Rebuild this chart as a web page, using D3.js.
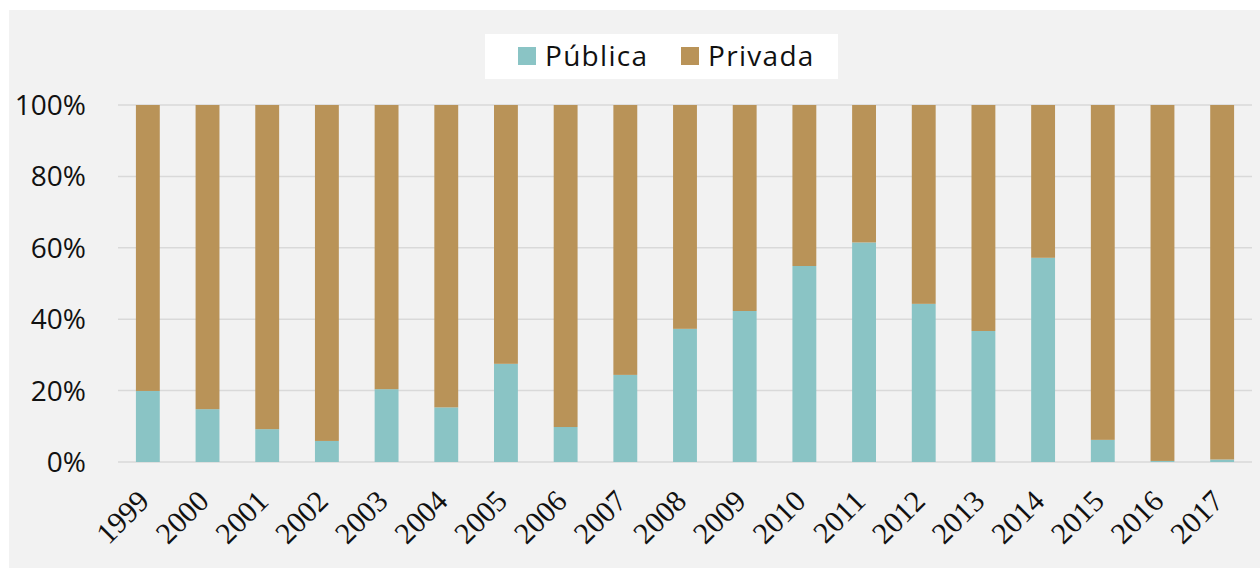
<!DOCTYPE html>
<html lang="es">
<head>
    <meta charset="utf-8">
    <style>
        body { margin: 0; background: #fff; }
        svg { display: block; }
    </style>
</head>
<body>
    <svg width="1260" height="568"></svg>
    <script src="https://cdn.jsdelivr.net/npm/d3@7"></script>
    <script>
        // Data
        const years = ["1999", "2000", "2001", "2002", "2003", "2004", "2005", "2006", "2007", "2008",
                       "2009", "2010", "2011", "2012", "2013", "2014", "2015", "2016", "2017"];
        const publica = [19.9, 14.8, 9.2, 5.9, 20.4, 15.3, 27.5, 9.8, 24.4, 37.3,
                         42.3, 54.9, 61.5, 44.3, 36.7, 57.2, 6.2, 0.3, 0.7];
        const privada = publica.map(v => 100 - v);
        const yTicks = [0, 20, 40, 60, 80, 100];
        const seriesNames = ["Pública", "Privada"];
        const colors = ["#8ac4c5", "#b99358"];

        const svg = d3.select("svg");

        // panel background
        svg.append("rect")
            .attr("x", 9).attr("y", 10)
            .attr("width", 1251).attr("height", 558)
            .attr("fill", "#f2f2f2");

        const plotLeft = 118, plotRight = 1252, plotTop = 105, plotBottom = 462;

        const x = d3.scaleBand().domain(years).range([plotLeft, plotRight]).paddingInner(0.6).paddingOuter(0.3);
        const y = d3.scaleLinear().domain([0, 100]).range([plotBottom, plotTop]);

        // gridlines
        svg.append("g")
            .selectAll("line")
            .data(yTicks)
            .join("line")
            .attr("x1", plotLeft).attr("x2", plotRight)
            .attr("y1", d => y(d)).attr("y2", d => y(d))
            .attr("stroke", "#d9d9d9")
            .attr("stroke-width", 1.5);

        // y tick labels
        svg.append("g")
            .selectAll("text")
            .data(yTicks)
            .join("text")
            .attr("x", 86)
            .attr("y", d => y(d))
            .attr("dy", "0.36em")
            .attr("text-anchor", "end")
            .attr("font-family", "'Open Sans', 'Noto Sans', sans-serif")
            .attr("font-size", 28)
            .attr("fill", "#111")
            .text(d => d + "%");

        // stacked bars
        const rows = years.map((yr, i) => ({ year: yr, publica: publica[i], privada: privada[i] }));
        const stack = d3.stack().keys(["publica", "privada"])(rows);

        svg.append("g")
            .selectAll("g")
            .data(stack)
            .join("g")
            .attr("fill", (d, i) => colors[i])
            .selectAll("rect")
            .data(d => d)
            .join("rect")
            .attr("x", d => x(d.data.year))
            .attr("width", x.bandwidth())
            .attr("y", d => y(d[1]))
            .attr("height", d => y(d[0]) - y(d[1]));

        // x labels, rotated
        svg.append("g")
            .selectAll("text")
            .data(years)
            .join("text")
            .attr("transform", d => `translate(${x(d) + x.bandwidth() / 2 + 3}, 503) rotate(-45)`)
            .attr("text-anchor", "end")
            .attr("font-family", "'Liberation Serif', 'DejaVu Serif', serif")
            .attr("font-size", 30)
            .attr("fill", "#111")
            .text(d => d);

        // legend
        const legend = svg.append("g");
        legend.append("rect")
            .attr("x", 485).attr("y", 34)
            .attr("width", 353).attr("height", 45)
            .attr("fill", "#fff");
        const legendX = [518, 681];
        seriesNames.forEach((name, i) => {
            legend.append("rect")
                .attr("x", legendX[i]).attr("y", 47)
                .attr("width", 18).attr("height", 18)
                .attr("fill", colors[i]);
            legend.append("text")
                .attr("x", legendX[i] + 27).attr("y", 56)
                .attr("dy", "0.36em")
                .attr("font-family", "'Open Sans', 'Noto Sans', sans-serif")
                .attr("font-size", 28)
                .attr("letter-spacing", 1.3)
                .attr("fill", "#111")
                .text(name);
        });
    </script>
</body>
</html>
